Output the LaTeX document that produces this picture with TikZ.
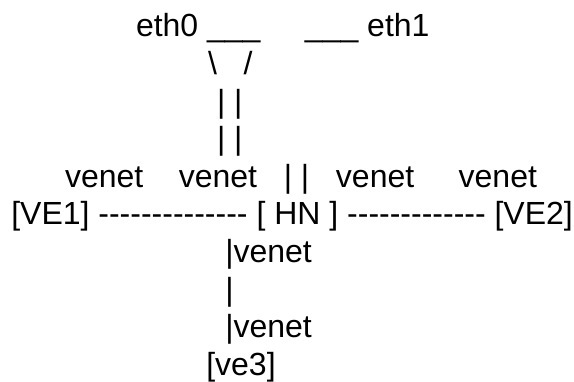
\documentclass[tikz,border=0pt]{standalone}
\usepackage{fontspec}
\setmainfont{Liberation Sans}
\newcommand\hy{-\kern0pt}
\begin{document}
\begin{tikzpicture}[x=1pt,y=-1pt,
  txt/.style={anchor=base west, inner sep=0pt, outer sep=0pt, font=\fontsize{32}{38}\selectfont}]
\useasboundingbox (0,0) rectangle (574,381);
\node[txt] (l1) at (136,36.9) {eth0\ \_\_\_\ \ \ \ \ \_\_\_\ eth1};
\node[txt] (l2) at (208,74.5) {\textbackslash\ \ \ /};
\node[txt] (l3) at (217,112.1) {|\ |};
\node[txt] (l4) at (217,149.7) {|\ |};
\node[txt] (l5) at (65,187.3) {venet\ \ \ \ venet\ \ \ |\ |\ \ \ venet\ \ \ \ \ venet};
\node[txt] (l6) at (11.3,224.9) {[VE1]\ \hy\hy\hy\hy\hy\hy\hy\hy\hy\hy\hy\hy\hy\hy\ [\ HN\ ]\ \hy\hy\hy\hy\hy\hy\hy\hy\hy\hy\hy\hy\hy\ [VE2]};
\node[txt] (l7) at (225.3,262.5) {|venet};
\node[txt] (l8) at (225.3,300.1) {|};
\node[txt] (l9) at (225.3,337.7) {|venet};
\node[txt] (l10) at (206.3,375.3) {[ve3]};
\end{tikzpicture}
\end{document}
